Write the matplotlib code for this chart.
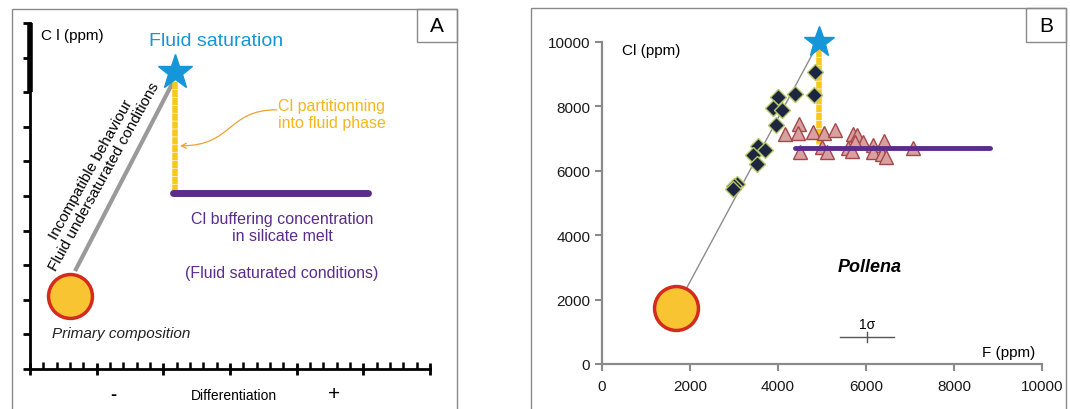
import matplotlib
matplotlib.use("Agg")
import matplotlib.pyplot as plt
from matplotlib.patches import Rectangle, FancyArrowPatch
from matplotlib.path import Path

plt.rcParams['font.family'] = ['Liberation Sans', 'DejaVu Sans']

# ---- panel A (schematic, arbitrary units) ----
a_primary = (0.6, 2.11)
a_saturation = (2.175, 8.58)
a_buffer_y = 5.09
a_buffer_x = (2.145, 5.07)
a_line_start = (0.675, 2.83)
a_line_end = (2.145, 8.29)
a_xticks = [0, 1, 2, 3, 4, 5, 6]
a_yticks = list(range(11))

# ---- panel B (Pollena) ----
primary_F, primary_Cl = 1680, 1740
sat_F, sat_Cl = 4930, 10000
buffer_Cl = 6720
buffer_F = (4390, 8820)
yellow_bottom = 6800

dia_F = [4840, 4390, 4820, 4000, 3890, 4090, 3950, 3550, 3700, 3430, 3520, 3060, 3000, 2980]
dia_Cl = [9070, 8390, 8340, 8300, 7950, 7890, 7420, 6770, 6650, 6490, 6200, 5600, 5520, 5450]

tri_F = [4160, 4470, 4460, 4800, 5050, 5290, 5710, 5800, 5930, 6160, 6400, 7070,
         4490, 5000, 5120, 5590, 5680, 6170, 6360, 6450, 5740]
tri_Cl = [7140, 7450, 7160, 7200, 7170, 7260, 7150, 7100, 6890, 6810, 6930, 6700,
          6570, 6740, 6580, 6700, 6620, 6580, 6520, 6440, 6880]

sigma_F = (5410, 6640)
sigma_Cl = 840
b_ticks = [0, 2000, 4000, 6000, 8000, 10000]

YELLOW = '#f8c81c'
PURPLE = '#5b2c8a'
BLUE = '#1596d8'
CIRCLE_FC = '#f8c432'
CIRCLE_EC = '#d42b1e'
GRAY = '#8a8a8a'
YDASH = (0, (1.3, 0.12))

fig = plt.figure(figsize=(10.7, 4.1), dpi=100)

# frames and panel letters (pixel overlay)
ov = fig.add_axes([0, 0, 1, 1])
ov.set_xlim(0, 1070)
ov.set_ylim(410, 0)
ov.axis('off')
ov.add_patch(Rectangle((12, 10), 445, 410, fill=False, ec=GRAY, lw=1))
ov.add_patch(Rectangle((417, 10), 40, 33, fill=False, ec=GRAY, lw=1))
ov.text(437, 27, 'A', fontsize=15, ha='center', va='center')
ov.add_patch(Rectangle((531, 9), 535, 410, fill=False, ec=GRAY, lw=1))
ov.add_patch(Rectangle((1026, 9), 40, 34, fill=False, ec=GRAY, lw=1))
ov.text(1046, 27, 'B', fontsize=15, ha='center', va='center')

# ---------------- panel A ----------------
axA = fig.add_axes([30 / 1070, 40 / 410, 400 / 1070, 346 / 410])
axA.patch.set_alpha(0)
axA.set_xlim(0, 6)
axA.set_ylim(0, 10)
for s in ['top', 'right']:
    axA.spines[s].set_visible(False)
for s in ['left', 'bottom']:
    axA.spines[s].set_linewidth(2)
    axA.spines[s].set_color('black')
axA.set_xticks(a_xticks)
axA.set_xticks([i / 5 for i in range(31) if i % 5], minor=True)
axA.set_yticks(a_yticks)
axA.tick_params(axis='x', which='major', direction='inout', length=9, width=2, labelbottom=False)
axA.tick_params(axis='x', which='minor', direction='in', length=5, width=1.8, color='black')
axA.tick_params(axis='y', which='major', direction='out', length=5, width=2, labelleft=False)
axA.plot([0, 0], [8, 10], color='black', lw=4, solid_capstyle='butt', clip_on=False, zorder=5)

axA.plot([a_line_start[0], a_line_end[0]], [a_line_start[1], a_line_end[1]],
         color='#9a9a9a', lw=3, solid_capstyle='butt', zorder=2)
axA.plot([a_saturation[0], a_saturation[0]], [a_line_end[1], a_buffer_y],
         color=YELLOW, lw=4, ls=YDASH, zorder=3)
axA.plot(a_buffer_x, [a_buffer_y, a_buffer_y], color=PURPLE, lw=5,
         solid_capstyle='round', zorder=3)
axA.plot(*a_saturation, marker='*', ms=26, color=BLUE, mec=BLUE, zorder=5)
axA.scatter(*a_primary, s=1000, fc=CIRCLE_FC, ec=CIRCLE_EC, lw=2.5, zorder=5, clip_on=False)

axA.text(0.165, 9.65, 'C l (ppm)', fontsize=11, ha='left', va='center')
axA.text(2.79, 9.5, 'Fluid saturation', fontsize=14, color=BLUE, ha='center', va='center')
axA.text(3.72, 7.36, 'Cl partitionning\ninto fluid phase', fontsize=11.5, color='#f5b61a',
         ha='left', va='center', linespacing=1.15)
axA.text(3.78, 4.1, 'Cl buffering concentration\nin silicate melt', fontsize=11.5,
         color=PURPLE, ha='center', va='center', linespacing=1.15)
axA.text(3.78, 2.8, '(Fluid saturated conditions)', fontsize=11.5, color=PURPLE,
         ha='center', va='center')
axA.text(1.02, 5.69, 'Incompatible behaviour\nFluid undersaturated conditions', fontsize=11,
         rotation=61, rotation_mode='anchor', ha='center', va='center', linespacing=1.1)
axA.text(0.33, 1.04, 'Primary composition', fontsize=11, style='italic',
         ha='left', va='center', color='#222222')
axA.text(1.245, -0.75, '-', fontsize=13, ha='center', va='center', fontweight='bold')
axA.text(3.06, -0.75, 'Differentiation', fontsize=10, ha='center', va='center')
axA.text(4.56, -0.72, '+', fontsize=15, ha='center', va='center')

arr_path = Path([(3.70, 7.49), (2.95, 7.49), (3.05, 6.45), (2.25, 6.45)],
                [Path.MOVETO, Path.CURVE4, Path.CURVE4, Path.CURVE4])
axA.add_patch(FancyArrowPatch(path=arr_path, arrowstyle='->', mutation_scale=9,
                              color='#f0a030', lw=0.9, zorder=4))

# ---------------- panel B ----------------
axB = fig.add_axes([602 / 1070, 45 / 410, 440 / 1070, 322 / 410])
axB.patch.set_alpha(0)
axB.set_xlim(0, 10000)
axB.set_ylim(0, 10000)
for s in ['top', 'right']:
    axB.spines[s].set_visible(False)
for s in ['left', 'bottom']:
    axB.spines[s].set_color(GRAY)
    axB.spines[s].set_linewidth(1.6)
axB.set_xticks(b_ticks)
axB.set_yticks(b_ticks)
axB.tick_params(direction='out', length=5, width=1.5, color=GRAY, labelsize=11,
                labelcolor='#1a1a1a')
axB.tick_params(axis='x', pad=6)

axB.plot([primary_F, sat_F], [primary_Cl, sat_Cl], color='#8c8c8c', lw=1, zorder=1)
axB.plot([sat_F, sat_F], [sat_Cl, yellow_bottom], color=YELLOW, lw=4,
         ls=YDASH, zorder=2)
axB.plot(dia_F, dia_Cl, ls='none', marker='D', ms=8.6, mfc='#1e2540', mec='#b5c86a',
         mew=1, zorder=3)
axB.plot(tri_F, tri_Cl, ls='none', marker='^', ms=10, mfc='#d8a0a0', mec='#a44848',
         mew=1, zorder=3)
axB.plot(buffer_F, [buffer_Cl, buffer_Cl], color=PURPLE, lw=3.5,
         solid_capstyle='round', zorder=4)
axB.plot(sat_F, sat_Cl, marker='*', ms=23, color=BLUE, zorder=6, clip_on=False)
axB.scatter(primary_F, primary_Cl, s=1000, fc=CIRCLE_FC, ec=CIRCLE_EC, lw=2.5,
            zorder=6, clip_on=False)

axB.plot(sigma_F, [sigma_Cl, sigma_Cl], color='#555555', lw=1)
axB.plot([sum(sigma_F) / 2] * 2, [sigma_Cl - 150, sigma_Cl + 150], color='#555555', lw=1)
axB.text(sum(sigma_F) / 2, sigma_Cl + 180, '1σ', fontsize=10, ha='center', va='bottom')

axB.text(450, 9750, 'Cl (ppm)', fontsize=11, ha='left', va='center')
axB.text(9850, 380, 'F (ppm)', fontsize=11, ha='right', va='center')
axB.text(6090, 3040, 'Pollena', fontsize=13, fontweight='bold', style='italic',
         ha='center', va='center')

fig.savefig('out.png', dpi=100)
